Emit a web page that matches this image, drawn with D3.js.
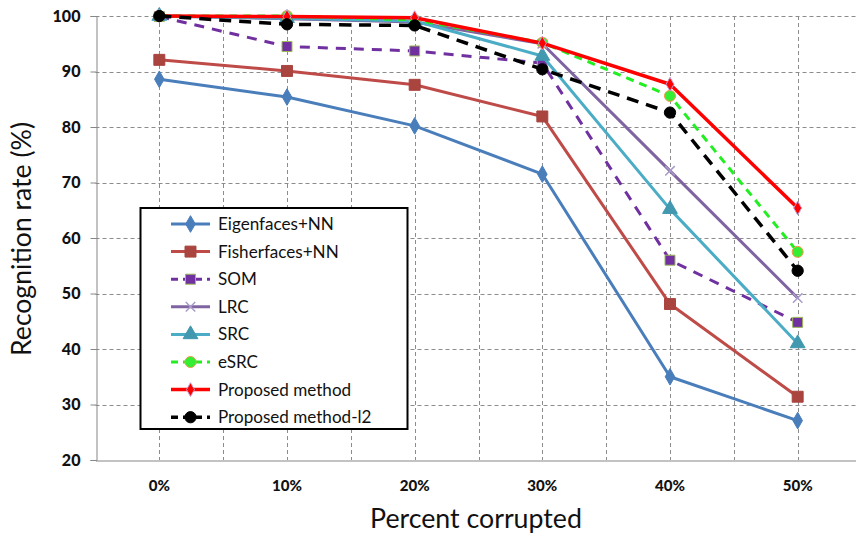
<!DOCTYPE html>
<html>
<head>
<meta charset="utf-8">
<script src="https://cdn.jsdelivr.net/npm/d3@7"></script>
<style>
  html, body { margin: 0; padding: 0; background: #fff; }
  svg { display: block; }
  text { font-family: Lato, "Open Sans", "Liberation Sans", sans-serif; }
</style>
</head>
<body>
<svg id="chart" width="856" height="536"></svg>
<script>
// Categories and tick labels
const categories = ["0%", "10%", "20%", "30%", "40%", "50%"];
const yTicks = [20, 30, 40, 50, 60, 70, 80, 90, 100];

// Recognition rate (%) per method
const eigenfaces = [88.6, 85.4, 80.2, 71.5, 35.0, 27.1];
const fisherfaces = [92.1, 90.1, 87.6, 81.9, 48.1, 31.4];
const som = [99.9, 94.5, 93.7, 91.5, 56.0, 44.8];
const lrc = [100, 99.5, 98.9, 95.0, 72.1, 49.2];
const src = [100, 99.6, 99.1, 92.8, 65.2, 41.0];
const esrc = [100, 100, 99.3, 95.2, 85.6, 57.5];
const proposed = [100, 99.9, 99.7, 95.1, 87.7, 65.4];
const proposedL2 = [100, 98.5, 98.3, 90.4, 82.6, 54.1];

const seriesNames = ["Eigenfaces+NN", "Fisherfaces+NN", "SOM", "LRC", "SRC", "eSRC", "Proposed method", "Proposed method-l2"];
const seriesValues = [eigenfaces, fisherfaces, som, lrc, src, esrc, proposed, proposedL2];

// Visual style for each series
const styles = [
  { color: "#4A7EBB", width: 3, dash: null, marker: "diamond", size: 80, fill: "#4A7EBB", stroke: "#4A7EBB" },
  { color: "#BE4B48", width: 3, dash: null, marker: "square", size: 120, fill: "#A9443F", stroke: "#A9443F" },
  { color: "#7030A0", width: 3, dash: "10,8", marker: "square", size: 100, fill: "#7030A0", stroke: "#9BBB59" },
  { color: "#8064A2", width: 3, dash: null, marker: "cross", size: 90, fill: "none", stroke: "#A99BC9" },
  { color: "#4BACC6", width: 3, dash: null, marker: "triangle", size: 95, fill: "#4198AF", stroke: "#4198AF" },
  { color: "#22EE22", width: 3, dash: "8,6", marker: "circle", size: 95, fill: "#33EE33", stroke: "#F79646" },
  { color: "#FF0000", width: 3.5, dash: null, marker: "diamond", size: 55, fill: "#FF0000", stroke: "#C0A0D8" },
  { color: "#000000", width: 3.5, dash: "12,8", marker: "circle", size: 100, fill: "#000000", stroke: "#000000" }
];

const svg = d3.select("#chart");
const plot = { left: 95.5, top: 16, bottom: 460, right: 861.5 };

const x = d3.scaleBand().domain(categories).range([plot.left, plot.right]).padding(0);
const y = d3.scaleLinear().domain([20, 100]).range([plot.bottom, plot.top]);
const cx = c => x(c) + x.bandwidth() / 2;

// Scale a text selection's font so a sample string spans a given width
function fitFont(sel, sampleNode, width) {
  const fs = parseFloat(d3.select(sampleNode).attr("font-size"));
  const w = sampleNode.getComputedTextLength();
  if (w > 0) sel.attr("font-size", fs * width / w);
}

// Grid
const grid = svg.append("g").attr("stroke", "#8C8C8C").attr("stroke-width", 1).attr("stroke-dasharray", "4,3").attr("fill", "none");
yTicks.filter(t => t > 20).forEach(t => {
  grid.append("line").attr("x1", plot.left).attr("x2", plot.right)
    .attr("y1", Math.round(y(t)) + 0.5).attr("y2", Math.round(y(t)) + 0.5);
});
const vLines = [];
categories.forEach((c, i) => {
  if (i > 0) vLines.push(x(c));
  vLines.push(cx(c));
});
vLines.push(plot.right);
vLines.forEach(v => {
  grid.append("line").attr("x1", Math.round(v) + 0.5).attr("x2", Math.round(v) + 0.5)
    .attr("y1", plot.top).attr("y2", plot.bottom);
});

// Y axis
const yAxis = d3.axisLeft(y).tickValues(yTicks).tickSize(6).tickPadding(10);
const gy = svg.append("g").attr("transform", `translate(${Math.round(plot.left) + 0.5},0)`).call(yAxis);
gy.select(".domain").attr("stroke", "#868686");
gy.selectAll(".tick line").attr("stroke", "#868686");
const yLabels = gy.selectAll(".tick text").attr("font-family", "Lato, 'Open Sans', sans-serif")
  .attr("font-size", 14).attr("font-weight", "900").attr("fill", "#111");
fitFont(yLabels, yLabels.filter(d => d === 100).node(), 28);

// X axis
const xAxis = d3.axisBottom(x).tickSize(0).tickPadding(20);
const gx = svg.append("g").attr("transform", `translate(0,${plot.bottom + 0.5})`).call(xAxis);
gx.select(".domain").attr("stroke", "#868686");
const xLabels = gx.selectAll(".tick text").attr("font-family", "Lato, 'Open Sans', sans-serif")
  .attr("font-size", 14).attr("font-weight", "900").attr("fill", "#111");
fitFont(xLabels, xLabels.filter(d => d === "10%").node(), 30);

// Axis titles
const xTitle = svg.append("text").attr("x", 476).attr("y", 528).attr("text-anchor", "middle")
  .attr("font-size", 22).attr("fill", "#111").text("Percent corrupted");
fitFont(xTitle, xTitle.node(), 212);
const yTitle = svg.append("text").attr("transform", "translate(31,239) rotate(-90)").attr("text-anchor", "middle")
  .attr("font-size", 21).attr("fill", "#111").text("Recognition rate (%)");
fitFont(yTitle, yTitle.node(), 234);

// Marker path generator
function markerPath(type, size) {
  if (type === "cross") {
    const r = Math.sqrt(size) / 2;
    return `M${-r},${-r}L${r},${r}M${-r},${r}L${r},${-r}`;
  }
  const sym = { diamond: d3.symbolDiamond, square: d3.symbolSquare, triangle: d3.symbolTriangle, circle: d3.symbolCircle }[type];
  return d3.symbol().type(sym).size(size)();
}

// Series lines and markers
const line = d3.line().x((d, i) => cx(categories[i])).y(d => y(d));
seriesValues.forEach((vals, k) => {
  const s = styles[k];
  const g = svg.append("g");
  g.append("path").datum(vals).attr("d", line).attr("fill", "none")
    .attr("stroke", s.color).attr("stroke-width", s.width)
    .attr("stroke-dasharray", s.dash).attr("stroke-linejoin", "round");
  g.selectAll("path.m").data(vals).join("path").attr("class", "m")
    .attr("transform", (d, i) => `translate(${cx(categories[i])},${y(d)})`)
    .attr("d", markerPath(s.marker, s.size))
    .attr("fill", s.fill).attr("stroke", s.stroke)
    .attr("stroke-width", s.marker === "cross" ? 1.5 : 1);
});

// Legend
const legend = svg.append("g");
legend.append("rect").attr("x", 140.5).attr("y", 208).attr("width", 267).attr("height", 221)
  .attr("fill", "#fff").attr("stroke", "#000").attr("stroke-width", 2);
seriesNames.forEach((name, k) => {
  const s = styles[k];
  const ly = 224 + k * 27.6;
  legend.append("line").attr("x1", 171).attr("x2", 210).attr("y1", ly).attr("y2", ly)
    .attr("stroke", s.color).attr("stroke-width", s.width)
    .attr("stroke-dasharray", s.dash ? "7,5" : null);
  legend.append("path").attr("transform", `translate(190.5,${ly})`)
    .attr("d", markerPath(s.marker, s.size))
    .attr("fill", s.fill).attr("stroke", s.stroke)
    .attr("stroke-width", s.marker === "cross" ? 1.5 : 1);
  legend.append("text").attr("class", "legend-label").attr("x", 218).attr("y", ly).attr("dy", "0.35em")
    .attr("font-size", 15.5).attr("fill", "#111").text(name);
});
const legendLabels = legend.selectAll("text.legend-label");
fitFont(legendLabels, legendLabels.node(), 116);
</script>
</body>
</html>
